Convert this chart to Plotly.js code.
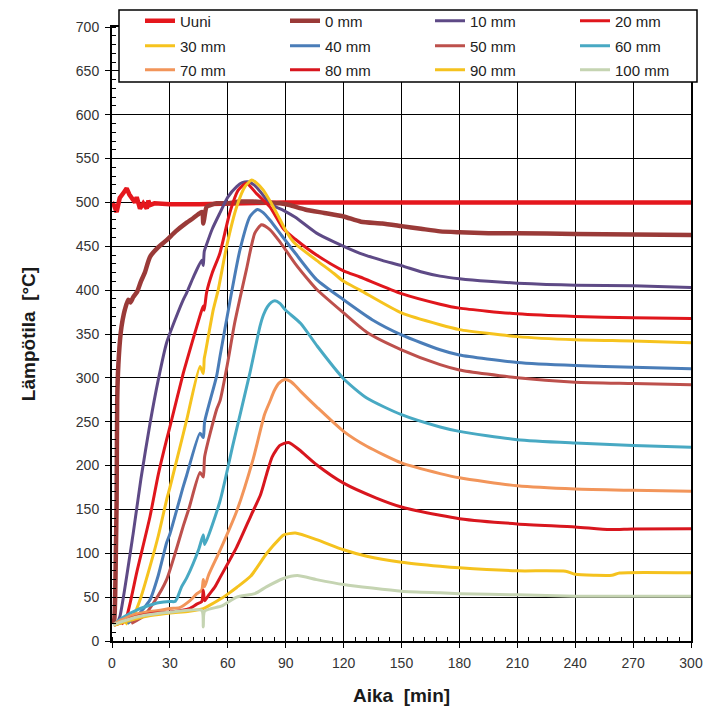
<!DOCTYPE html>
<html>
<head>
<meta charset="utf-8">
<script src="https://cdn.plot.ly/plotly-3.0.1.min.js"></script>
<style>html,body{margin:0;padding:0;background:#fff;}#chart{width:717px;height:727px;}</style>
</head>
<body>
<div id="chart"></div>
<script>
// ---- Data (time in min, temperature in °C) ----
const seriesNames = ['Uuni','0 mm','10 mm','20 mm','30 mm','40 mm','50 mm','60 mm','70 mm','80 mm','90 mm','100 mm'];
const seriesColors = ['#E5171D','#9A3A38','#5E4A86','#E0161C','#F6C31E','#4A7DB8','#BD504C','#48A9C3','#F2955A','#D8161E','#F5C21E','#C5D4B2'];

const uuniT = [0, 1, 2.4, 4, 6, 7.6, 9, 10.2, 11.9, 12.8, 14.5, 16.2, 18, 18.8, 19.7, 22, 30, 45, 60, 90, 120, 180, 240, 300];
const uuniV = [500, 497, 489, 505, 511, 516, 509, 505, 500, 506, 493, 499, 493, 502, 497, 499, 498, 498, 499, 500, 500, 500, 500, 500];

const mm0T = [0.5, 1.2, 1.6, 2.0, 2.4, 2.7, 3.3, 4.5, 5.5, 6.7, 8.4, 9.5, 11, 13, 15, 17, 19.7, 24, 28.3, 33, 38.7, 42, 45.6, 46.8, 47.3, 47.8, 49, 51, 54.2, 60.3, 66, 73, 80, 87, 92, 100, 110, 120, 129, 140, 150, 160, 170, 180, 195, 210, 240, 270, 300];
const mm0V = [20, 25, 47, 100, 161, 275, 315, 351, 366, 378, 389, 386, 392, 398, 410, 420, 438, 449, 457, 467, 477, 482, 488, 489, 476, 482, 495, 497, 499, 499, 501, 501, 500, 499, 497, 492, 488, 484, 478, 476, 473, 470, 467, 466, 465, 465, 464, 463.5, 463];

const mm10T = [2.5, 4.1, 11, 15, 19.7, 24, 28.3, 33, 36.9, 38.7, 42, 46.5, 47.3, 47.8, 49, 52, 55.9, 60, 64.6, 67.5, 70.5, 73.6, 77, 80.2, 84, 88.8, 95, 106, 115, 128.5, 140, 150, 160, 170, 180, 195, 210, 225, 240, 270, 300];
const mm10V = [19, 28, 123, 185, 248, 298, 340, 368, 389, 397, 414, 434, 428, 444, 452, 470, 488, 506, 518, 522.5, 523.6, 520, 512, 503, 496, 491, 483, 465, 455, 442, 434, 428, 421, 416, 413, 410, 408, 406.5, 405.7, 405, 403];

const mm20T = [5, 7.6, 13, 19.7, 24, 28.3, 30, 36.9, 38.7, 45.6, 47.3, 47.8, 49, 52, 55.9, 61, 65.4, 69.7, 74.9, 81.8, 88.8, 95, 106, 120, 128.5, 150, 170, 180, 210, 240, 270, 300];
const mm20V = [19, 28, 80, 142, 190, 229.5, 244, 305, 319, 371, 382, 377, 397, 420, 442, 488, 514, 522, 510, 495, 470, 458, 440, 422, 415, 396, 384, 379.5, 373, 370, 368.5, 367.7];

const mm30T = [7, 11, 15, 19.7, 24, 28.3, 30, 36.9, 38.7, 45.6, 47.3, 47.8, 48.5, 52.5, 55, 59.4, 64.6, 68.9, 72.4, 75, 78.4, 82, 86, 90, 94.4, 106, 115, 120, 128.5, 150, 170, 180, 210, 240, 270, 300];
const mm30V = [19, 28, 50, 85, 120, 161, 175, 236, 252, 313, 305, 322, 330, 378, 400, 450, 495, 518, 525.5, 522, 514, 501, 485, 468, 454, 434, 419, 410, 400, 374, 360.5, 355, 347, 343.4, 342, 340];

const mm40T = [8, 12.8, 16, 19.7, 24, 28.3, 30, 36.9, 38.7, 45.6, 47.3, 48, 54.2, 56, 61, 66.3, 71.5, 75.3, 78, 81.8, 88, 95, 106, 120, 135, 150, 170, 180, 210, 240, 270, 300];
const mm40V = [20, 28, 36, 47, 75, 112, 122, 176, 189, 237, 232, 250, 302, 325, 386, 446, 484, 492, 489, 480, 462, 442, 412, 389, 366, 349, 332, 326, 317.5, 314, 312, 310.5];

const mm50T = [10, 16.2, 22, 28.3, 33, 36.9, 40, 45.6, 47.3, 48, 54.2, 56, 60, 63.5, 69.7, 74, 77.5, 81.8, 87, 95, 102, 106, 120, 132, 150, 170, 180, 210, 240, 270, 300];
const mm50V = [20, 28, 45, 70, 102, 131, 152, 192, 187, 210, 264, 274, 318, 362, 424, 465, 474.5, 469, 455, 430, 411, 401, 374, 352, 332, 315, 309, 300, 295, 293.5, 292];

const mm60T = [1, 5, 13.6, 20, 24, 30, 32.6, 34, 36.1, 38.7, 45, 47.3, 48, 55.9, 62.8, 71.5, 76.7, 78.5, 80.5, 82.5, 84.4, 87, 90, 97.8, 106.4, 120, 132, 150, 170, 180, 210, 240, 270, 300];
const mm60V = [19, 26, 36, 41, 43.5, 45, 45, 50, 62, 72, 105, 121, 110, 159, 225, 306, 359, 372, 381, 386, 388, 385, 377, 362, 336, 299, 277, 258, 244, 239, 229.5, 225.7, 223, 221];

const mm70T = [1, 5, 10, 18, 25, 30, 35, 40.4, 44, 46.5, 47.3, 48, 50, 55.9, 64.6, 73.2, 79, 81.8, 84, 86.5, 89.5, 92.5, 95, 98, 106, 120, 132, 150, 170, 180, 210, 240, 270, 300];
const mm70V = [19, 24, 29, 33, 35, 37, 38, 46, 54, 58, 70, 62, 75, 103, 148, 208, 258, 273, 285, 294, 298, 296, 291, 284, 267, 239, 222, 203, 190.8, 186, 177, 173.3, 171.8, 170.6];

const mm80T = [1, 5, 10, 20, 30, 40, 43.9, 46.5, 47.3, 48, 50, 53.4, 55.9, 64.6, 72, 77, 80.2, 83, 87, 91.5, 97, 106, 120, 137, 150, 170, 180, 210, 240, 258, 270, 300];
const mm80V = [18, 21, 26, 31, 33, 37, 42, 45, 58, 46, 52, 62, 72, 107, 143, 167, 191, 210, 223, 226.4, 218, 201, 180, 163, 152.8, 143.3, 139.5, 133.5, 130, 127, 127.8, 128];

const mm90T = [1, 10, 20, 30, 40, 47.3, 50, 57, 60.3, 64.6, 71.9, 80.2, 87, 89, 95, 106, 120, 132, 150, 170, 180, 210, 235, 240, 250, 259, 263, 300];
const mm90V = [18, 24, 29, 32, 34, 37, 40, 49, 54, 61, 74, 100, 117, 121, 123, 115.6, 104, 96.6, 89.8, 85.2, 83.4, 80, 79.5, 76, 75, 75, 77.5, 77.7];

const mm100T = [0.5, 5, 14, 31, 46.5, 47.3, 48, 57, 64.6, 74, 80.2, 88.5, 96, 106, 120, 150, 170, 180, 210, 240, 270, 300];
const mm100V = [18, 22, 28, 33, 35, 16, 34, 40, 50, 54, 62, 71, 74.6, 70, 64.4, 56.7, 54.9, 54, 52.6, 51, 51, 51];

const seriesT = [uuniT, mm0T, mm10T, mm20T, mm30T, mm40T, mm50T, mm60T, mm70T, mm80T, mm90T, mm100T];
const seriesV = [uuniV, mm0V, mm10V, mm20V, mm30V, mm40V, mm50V, mm60V, mm70V, mm80V, mm90V, mm100V];

const xTicks = [0, 30, 60, 90, 120, 150, 180, 210, 240, 270, 300];
const yTicks = [0, 50, 100, 150, 200, 250, 300, 350, 400, 450, 500, 550, 600, 650, 700];

// ---- Figure ----
const FONT = 'Liberation Sans, Arial, sans-serif';
const legendKeys = ['legend', 'legend2', 'legend3'];

const traces = seriesNames.map((name, i) => ({
  type: 'scatter',
  mode: 'lines',
  name: name,
  x: seriesT[i],
  y: seriesV[i],
  line: {color: seriesColors[i], width: (i < 2 ? 4.5 : 3), shape: (i === 0 ? 'linear' : 'spline'), smoothing: 0.6},
  legend: legendKeys[Math.floor(i / 4)],
  hoverinfo: 'skip'
}));

// Plot area in pixels: left 112, right 691, top 27, bottom 641.5
const PL = 112, PR = 691, PT = 27, PB = 641.5;
const px2x = p => (p - PL) / (PR - PL);
const py2y = p => (PB - p) / (PB - PT);

function legendAt(rowY) {
  return {
    orientation: 'h', x: px2x(140), xanchor: 'left', y: py2y(rowY), yanchor: 'middle',
    bgcolor: 'rgba(0,0,0,0)', borderwidth: 0,
    entrywidth: 100, entrywidthmode: 'pixels', itemwidth: 30,
    font: {family: FONT, size: 15, color: '#222'}, traceorder: 'normal'
  };
}

const axisCommon = {
  showgrid: true, gridcolor: '#000', gridwidth: 1,
  showline: true, linecolor: '#000', linewidth: 2, mirror: true,
  ticks: 'outside', ticklen: 5, tickcolor: '#000', tickwidth: 1,
  zeroline: false,
  tickfont: {family: FONT, size: 14, color: '#333'}
};

const layout = {
  width: 717, height: 727,
  paper_bgcolor: '#fff', plot_bgcolor: '#fff',
  margin: {l: PL, r: 717 - PR, t: PT, b: 727 - PB, autoexpand: false},
  showlegend: true,
  xaxis: Object.assign({}, axisCommon, {
    range: [0, 300], tickmode: 'array', tickvals: xTicks, ticktext: xTicks.map(String),
    minor: {dtick: 6, tick0: 0, ticks: 'inside', ticklen: 4, tickcolor: '#000', showgrid: false},
    ticklabelstandoff: 3,
    title: {text: 'Aika\u00a0 [min]', font: {family: FONT, size: 19, color: '#1a1a1a', weight: 'bold'}, standoff: 19}
  }),
  yaxis: Object.assign({}, axisCommon, {
    range: [0, 700], tickmode: 'array', tickvals: yTicks, ticktext: yTicks.map(String),
    minor: {dtick: 10, tick0: 0, ticks: 'inside', ticklen: 4, tickcolor: '#000', showgrid: false},
    ticklabelstandoff: 3,
    title: {text: 'Lämpötila\u00a0 [°C]', font: {family: FONT, size: 19, color: '#1a1a1a', weight: 'bold'}, standoff: 35}
  }),
  legend: legendAt(21),
  legend2: legendAt(46),
  legend3: legendAt(70),
  shapes: [{
    type: 'rect', xref: 'paper', yref: 'paper', layer: 'above',
    x0: px2x(119), x1: px2x(697), y0: py2y(82), y1: py2y(10),
    fillcolor: '#fff', line: {color: '#000', width: 1.5}
  }]
};

Plotly.newPlot('chart', traces, layout, {staticPlot: true, displayModeBar: false});
</script>
</body>
</html>
